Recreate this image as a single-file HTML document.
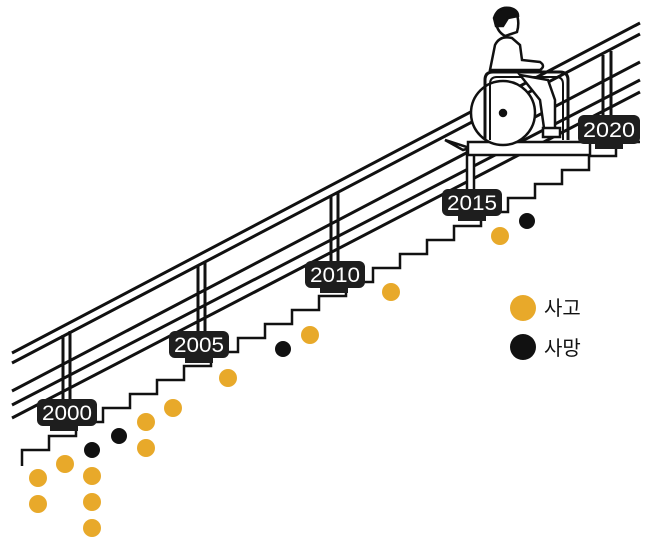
<!DOCTYPE html>
<html><head><meta charset="utf-8"><style>
html,body{margin:0;padding:0;background:#fff;}
svg{display:block}
</style></head><body>
<svg width="658" height="552" viewBox="0 0 658 552" xmlns="http://www.w3.org/2000/svg">
<g stroke="#111" stroke-width="3" fill="none">
<line x1="12" y1="353" x2="640" y2="23"/>
<line x1="12" y1="363" x2="640" y2="34"/>
<line x1="12" y1="391" x2="640" y2="62"/>
<line x1="12" y1="405" x2="640" y2="80"/>
<line x1="12" y1="418" x2="640" y2="92"/>
<line x1="63" y1="335" x2="63" y2="400"/>
<line x1="70" y1="331" x2="70" y2="400"/>
<line x1="198" y1="265" x2="198" y2="333"/>
<line x1="205" y1="261" x2="205" y2="333"/>
<line x1="331" y1="195" x2="331" y2="262"/>
<line x1="338" y1="192" x2="338" y2="262"/>
<line x1="603" y1="55" x2="603" y2="118"/>
<line x1="611" y1="51" x2="611" y2="118"/>
<path d="M22 466 V450 h27 v-14 h27 v-14 h27 v-14 h27 v-14 h27 v-14 h27 v-14 h27 v-14 h27 v-14 h27 v-14 h27 v-14 h27 v-14 h27 v-14 h27 v-14 h27 v-14 h27 v-14 h27 v-14 h27 v-14 h27 v-14 h27 v-14 h27 v-14 h27 v-14 h27 v-14 h24" stroke-width="2.5"/>
</g>
<g stroke="#111" stroke-width="2.5" fill="#fff">
<rect x="467" y="150" width="7" height="55"/>
<polygon points="445,140 470,148 463,150"/>
<rect x="468" y="142" width="122" height="13"/>
<circle cx="503" cy="113" r="32"/>
<circle cx="503" cy="113" r="3" fill="#111"/>
<path d="M485 140 V80 Q485 72 493 72 H560 Q568 72 568 80 V140" fill="none" stroke-width="3"/>
<path d="M490 140 V84 Q490 77 497 77 H556 Q563 77 563 84 V140" fill="none" stroke-width="2"/>
<path d="M490 70 L495 45 Q500 35 512 38 L520 45 L522 60 L540 62 Q546 66 540 70 Z"/>
<path d="M520 75 L548 80 L555 100 L555 130 L545 135 L540 100 Z"/>
<rect x="543" y="128" width="17" height="9"/>
<path d="M496 14 Q505 5 516 12 Q520 22 517 32 L505 36 Q494 30 496 14 Z" fill="#fff"/>
<path d="M494 18 Q498 6 510 8 Q518 10 518 16 L508 18 L503 26 L496 26 Z" fill="#111"/>
</g>
<g font-family="'Liberation Sans Narrow','Liberation Sans',sans-serif" font-size="21" fill="#fff" text-anchor="middle">
<rect x="37" y="399" width="60" height="27" rx="6" fill="#1e1e1e"/>
<rect x="50" y="425" width="28" height="6" fill="#1e1e1e"/>
<text x="67" y="420" textLength="50" lengthAdjust="spacingAndGlyphs">2000</text>
<rect x="169" y="331" width="60" height="27" rx="6" fill="#1e1e1e"/>
<rect x="185" y="357" width="28" height="6" fill="#1e1e1e"/>
<text x="199" y="352" textLength="50" lengthAdjust="spacingAndGlyphs">2005</text>
<rect x="305" y="261" width="60" height="27" rx="6" fill="#1e1e1e"/>
<rect x="320" y="287" width="28" height="6" fill="#1e1e1e"/>
<text x="335" y="282" textLength="50" lengthAdjust="spacingAndGlyphs">2010</text>
<rect x="442" y="189" width="60" height="27" rx="6" fill="#1e1e1e"/>
<rect x="458" y="215" width="28" height="6" fill="#1e1e1e"/>
<text x="472" y="210" textLength="50" lengthAdjust="spacingAndGlyphs">2015</text>
<rect x="578" y="115" width="62" height="29" rx="6" fill="#1e1e1e"/>
<rect x="595" y="143" width="28" height="6" fill="#1e1e1e"/>
<text x="609" y="137" textLength="52" lengthAdjust="spacingAndGlyphs">2020</text>
</g>
<g fill="#E8A92A">
<circle cx="38" cy="478" r="9"/><circle cx="38" cy="504" r="9"/>
<circle cx="65" cy="464" r="9"/>
<circle cx="92" cy="476" r="9"/><circle cx="92" cy="502" r="9"/><circle cx="92" cy="528" r="9"/>
<circle cx="146" cy="422" r="9"/><circle cx="146" cy="448" r="9"/>
<circle cx="173" cy="408" r="9"/>
<circle cx="228" cy="378" r="9"/>
<circle cx="310" cy="335" r="9"/>
<circle cx="391" cy="292" r="9"/>
<circle cx="500" cy="236" r="9"/>
<circle cx="523" cy="308" r="13"/>
</g>
<g fill="#111">
<circle cx="92" cy="450" r="8"/>
<circle cx="119" cy="436" r="8"/>
<circle cx="283" cy="349" r="8"/>
<circle cx="527" cy="221" r="8"/>
<circle cx="523" cy="347" r="13"/>
</g>
<g font-family="'Liberation Sans','Noto Sans CJK KR',sans-serif" font-size="20" fill="#111">
<text x="544" y="315">사고</text>
<text x="544" y="355">사망</text>
</g>
</svg>
</body></html>
